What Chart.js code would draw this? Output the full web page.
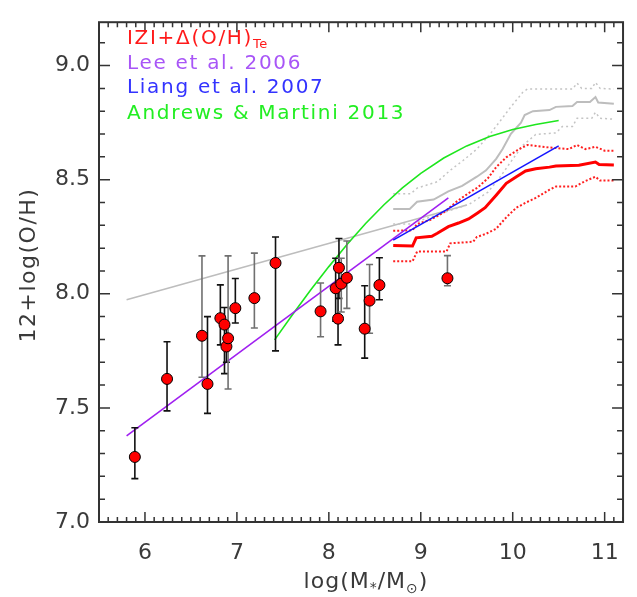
<!DOCTYPE html>
<html>
<head>
<meta charset="utf-8">
<script src="https://cdn.jsdelivr.net/npm/chart.js@4.4.1/dist/chart.umd.min.js"></script>
<style>
  html, body { margin: 0; padding: 0; background: #fff; }
</style>
</head>
<body>
<canvas id="chart" width="637" height="597"></canvas>
<script>
// =========================
// Data
// =========================
const xTickValues = [6, 7, 8, 9, 10, 11];
const yTickValues = [7.0, 7.5, 8.0, 8.5, 9.0];

// galaxies with Te abundances
const ptMass = [5.89, 6.24, 6.62, 6.68, 6.82, 6.865, 6.886, 6.904, 6.983, 7.19, 7.42,
                7.91, 8.074, 8.10, 8.11, 8.135, 8.196, 8.39, 8.443, 8.55, 9.29];
const ptOH   = [7.285, 7.627, 7.816, 7.605, 7.893, 7.865, 7.769, 7.805, 7.937, 7.981, 8.135,
                7.923, 8.024, 7.891, 8.114, 8.044, 8.07, 7.847, 7.97, 8.038, 8.068];
const ptLow  = [7.19, 7.487, 7.634, 7.476, 7.776, 7.65, 7.70, 7.583, 7.872, 7.85, 7.75,
                7.812, 7.88, 7.776, 7.98, 7.92, 7.936, 7.718, 7.827, 7.974, 8.035];
const ptHigh = [7.413, 7.79, 8.166, 7.90, 8.039, 7.94, 7.86, 8.166, 8.067, 8.178, 8.249,
                8.047, 8.156, 8.03, 8.242, 8.156, 8.231, 8.035, 8.128, 8.158, 8.167];

// IZI + Delta(O/H)_Te median and 1-sigma
const iziMass = [8.70, 8.91, 8.95, 9.12, 9.18, 9.30, 9.41, 9.52, 9.61, 9.70, 9.82, 9.93,
                 10.04, 10.14, 10.25, 10.40, 10.47, 10.72, 10.90, 10.94, 11.10];
const iziOH   = [8.212, 8.209, 8.245, 8.252, 8.265, 8.294, 8.310, 8.328, 8.352, 8.377, 8.432, 8.484,
                 8.513, 8.538, 8.548, 8.555, 8.560, 8.563, 8.577, 8.566, 8.564];
const iziUpMass = [8.70, 8.91, 8.96, 9.10, 9.25, 9.39, 9.52, 9.62, 9.73, 9.82, 9.93, 10.07,
                   10.16, 10.40, 10.61, 10.70, 10.79, 10.90, 11.00, 11.10];
const iziUpOH   = [8.276, 8.278, 8.306, 8.323, 8.356, 8.404, 8.441, 8.466, 8.506, 8.555, 8.598, 8.634,
                   8.652, 8.641, 8.634, 8.652, 8.634, 8.644, 8.627, 8.627];
const iziLoMass = [8.70, 8.91, 8.96, 9.28, 9.32, 9.57, 9.61, 9.71, 9.82, 9.93, 10.04, 10.14,
                   10.25, 10.40, 10.47, 10.68, 10.79, 10.90, 10.95, 11.10];
const iziLoOH   = [8.142, 8.142, 8.185, 8.185, 8.221, 8.228, 8.249, 8.263, 8.285, 8.335, 8.377, 8.399,
                   8.420, 8.456, 8.470, 8.470, 8.494, 8.513, 8.496, 8.496];

// IZI without correction (grey) median and 1-sigma
const greyMass = [8.70, 8.88, 8.96, 9.14, 9.30, 9.45, 9.61, 9.71, 9.82, 9.89, 9.98, 10.09,
                  10.13, 10.22, 10.40, 10.47, 10.65, 10.70, 10.84, 10.90, 10.93, 11.10];
const greyOH   = [8.372, 8.372, 8.403, 8.413, 8.449, 8.473, 8.513, 8.541, 8.591, 8.634, 8.701, 8.750,
                  8.783, 8.800, 8.805, 8.819, 8.823, 8.840, 8.840, 8.862, 8.838, 8.833];
const greyUpMass = [8.70, 8.89, 8.96, 9.18, 9.32, 9.46, 9.61, 9.75, 9.86, 9.98, 10.11, 10.16,
                    10.65, 10.70, 10.75, 10.86, 10.90, 10.95, 11.10];
const greyUpOH   = [8.438, 8.438, 8.463, 8.491, 8.541, 8.584, 8.634, 8.698, 8.755, 8.819, 8.883, 8.897,
                    8.897, 8.923, 8.900, 8.900, 8.926, 8.900, 8.897];
const greyLoMass = [8.70, 8.91, 9.01, 9.30, 9.52, 9.73, 9.86, 10.00, 10.11, 10.25, 10.47, 10.54,
                    10.65, 10.70, 10.86, 10.90, 10.95, 11.10];
const greyLoOH   = [8.306, 8.306, 8.323, 8.363, 8.391, 8.445, 8.510, 8.590, 8.650, 8.698, 8.705, 8.733,
                    8.733, 8.769, 8.769, 8.795, 8.769, 8.765];

// straight grey fit
const fitMass = [5.80, 9.50];
const fitOH   = [7.974, 8.389];

// literature relations
const leeMass = [5.80, 9.30];
const leeOH   = [7.377, 8.420];
const liangMass = [8.70, 10.50];
const liangOH   = [8.235, 8.648];
const amMass = [7.41, 7.6, 7.8, 8.0, 8.2, 8.4, 8.6, 8.8, 9.0, 9.25, 9.5, 9.75, 10.0, 10.25, 10.5];
const amOH   = [7.798, 7.906, 8.015, 8.119, 8.217, 8.308, 8.390, 8.464, 8.528, 8.595, 8.648,
                8.689, 8.720, 8.742, 8.759];

// legend entries
const legendLabels = ['IZI+Δ(O/H)', 'Lee et al. 2006', 'Liang et al. 2007', 'Andrews & Martini 2013'];

// =========================
// Helpers / styles
// =========================
const FONT = "'DejaVu Sans', sans-serif";
const AXIS_COLOR = '#3a3a3a';
const greyBars = [2, 7, 9, 11, 15, 16, 18, 20];

function pts(xs, ys) {
  return xs.map((v, i) => ({ x: v, y: ys[i] }));
}

function lineSet(xs, ys, color, width, dash, order) {
  return {
    data: pts(xs, ys),
    showLine: true,
    borderColor: color,
    borderWidth: width,
    borderDash: dash || [],
    pointRadius: 0,
    fill: false,
    order: order
  };
}

// =========================
// Error bars (under the points)
// =========================
const errorBars = {
  id: 'errorBars',
  beforeDatasetDraw(chart, args) {
    if (args.index !== 0) return;
    const { ctx, scales: { x, y } } = chart;
    ctx.save();
    ctx.lineWidth = 1.6;
    ptMass.forEach((m, i) => {
      const px = x.getPixelForValue(m);
      const yl = y.getPixelForValue(ptLow[i]);
      const yh = y.getPixelForValue(ptHigh[i]);
      ctx.strokeStyle = greyBars.includes(i) ? '#707070' : '#111';
      ctx.beginPath();
      ctx.moveTo(px, yl); ctx.lineTo(px, yh);
      ctx.moveTo(px - 3.5, yl); ctx.lineTo(px + 3.5, yl);
      ctx.moveTo(px - 3.5, yh); ctx.lineTo(px + 3.5, yh);
      ctx.stroke();
    });
    ctx.restore();
  }
};

// =========================
// Inward ticks on all four sides (major 10, minor 5 px)
// =========================
const frameTicks = {
  id: 'frameTicks',
  afterDatasetsDraw(chart) {
    const { ctx, chartArea: a, scales: { x, y } } = chart;
    ctx.save();
    ctx.strokeStyle = '#333';
    ctx.lineWidth = 1.5;
    for (let i = 55; i <= 112; i++) {
      const px = x.getPixelForValue(i / 10);
      const len = (i % 10 === 0) ? 10 : 5;
      ctx.beginPath();
      ctx.moveTo(px, a.bottom); ctx.lineTo(px, a.bottom - len);
      ctx.moveTo(px, a.top); ctx.lineTo(px, a.top + len);
      ctx.stroke();
    }
    for (let i = 70; i <= 91; i++) {
      const py = y.getPixelForValue(i / 10);
      const len = (i % 5 === 0) ? 11 : 6;
      ctx.beginPath();
      ctx.moveTo(a.left, py); ctx.lineTo(a.left + len, py);
      ctx.moveTo(a.right, py); ctx.lineTo(a.right - len, py);
      ctx.stroke();
    }
    ctx.restore();
  }
};

// =========================
// Box, titles and legend text
// =========================
const labels = {
  id: 'labels',
  afterDraw(chart) {
    const g = chart.ctx;
    const a = chart.chartArea;

    g.save();
    g.strokeStyle = '#333';
    g.lineWidth = 2;
    g.strokeRect(a.left, a.top, a.right - a.left, a.bottom - a.top);
    g.restore();

    g.save();
    g.fillStyle = AXIS_COLOR;

    // y title
    g.save();
    g.translate(35, 265);
    g.rotate(-Math.PI / 2);
    g.font = '22px ' + FONT;
    g.letterSpacing = '1.5px';
    g.textAlign = 'center';
    g.textBaseline = 'alphabetic';
    g.fillText('12+log(O/H)', 0, 0);
    g.restore();

    // x title with subscripts
    g.save();
    g.letterSpacing = '1px';
    g.textBaseline = 'alphabetic';
    const big = '22px ' + FONT, small = '14px ' + FONT;
    const parts = [['log(M', big, 0], ['*', small, 4], ['/M', big, 0], ['⊙', small, 5], [')', big, 0]];
    let w = 0;
    parts.forEach(p => { g.font = p[1]; w += g.measureText(p[0]).width; });
    let cx = 366 - w / 2;
    parts.forEach(p => {
      g.font = p[1];
      g.fillText(p[0], cx, 588 + p[2]);
      cx += g.measureText(p[0]).width;
    });
    g.restore();

    // legend text
    g.save();
    g.letterSpacing = '1.7px';
    g.textBaseline = 'alphabetic';
    const lx = 127;
    const colors = ['#ff1a1a', '#a855f7', '#3333ff', '#22ee22'];
    const bases = [44, 69, 93, 119];
    legendLabels.forEach((t, i) => {
      g.fillStyle = colors[i];
      g.font = '20px ' + FONT;
      g.fillText(t, lx, bases[i]);
      if (i === 0) {
        const tw = g.measureText(t).width;
        g.font = '13px ' + FONT;
        g.letterSpacing = '0.5px';
        g.fillText('Te', lx + tw, bases[i] + 4);
        g.letterSpacing = '1.7px';
      }
    });
    g.restore();

    g.restore();
  }
};

// =========================
// Chart
// =========================
const ctx = document.getElementById('chart').getContext('2d');

new Chart(ctx, {
  type: 'scatter',
  data: {
    datasets: [
      {
        data: pts(ptMass, ptOH),
        pointRadius: 5.5,
        pointBackgroundColor: '#ff0000',
        pointBorderColor: '#000',
        pointBorderWidth: 1,
        showLine: false,
        order: 0
      },
      lineSet(fitMass, fitOH, '#bdbdbd', 1.6, null, 9),
      lineSet(greyUpMass, greyUpOH, '#c4c4c4', 1.5, [2, 3], 8),
      lineSet(greyLoMass, greyLoOH, '#c4c4c4', 1.5, [2, 3], 8),
      lineSet(greyMass, greyOH, '#bdbdbd', 2, null, 7),
      lineSet(amMass, amOH, '#1ee61e', 1.6, null, 6),
      lineSet(iziUpMass, iziUpOH, '#ff2020', 2, [2, 2], 5),
      lineSet(iziLoMass, iziLoOH, '#ff2020', 2, [2, 2], 5),
      lineSet(iziMass, iziOH, '#ff0000', 3, null, 4),
      lineSet(leeMass, leeOH, '#a020f0', 1.6, null, 3),
      lineSet(liangMass, liangOH, '#1515ff', 1.6, null, 2)
    ]
  },
  options: {
    responsive: false,
    animation: false,
    events: [],
    layout: { padding: { top: 9, right: 10, left: 0, bottom: 0 } },
    plugins: {
      legend: { display: false },
      tooltip: { enabled: false }
    },
    scales: {
      x: {
        type: 'linear',
        min: 5.5,
        max: 11.2,
        grid: { display: false, drawTicks: false },
        border: { display: false },
        afterBuildTicks: s => { s.ticks = xTickValues.map(v => ({ value: v })); },
        afterFit: s => { s.height = 75; },
        ticks: {
          padding: 18,
          color: AXIS_COLOR,
          font: { family: FONT, size: 22 },
          callback: v => String(v)
        }
      },
      y: {
        type: 'linear',
        min: 7.0,
        max: 9.19,
        grid: { display: false, drawTicks: false },
        border: { display: false },
        afterBuildTicks: s => { s.ticks = yTickValues.map(v => ({ value: v })); },
        afterFit: s => { s.width = 99; },
        ticks: {
          padding: 9,
          color: AXIS_COLOR,
          font: { family: FONT, size: 22 },
          callback: v => Number(v).toFixed(1)
        }
      }
    }
  },
  plugins: [errorBars, frameTicks, labels]
});
</script>
</body>
</html>
